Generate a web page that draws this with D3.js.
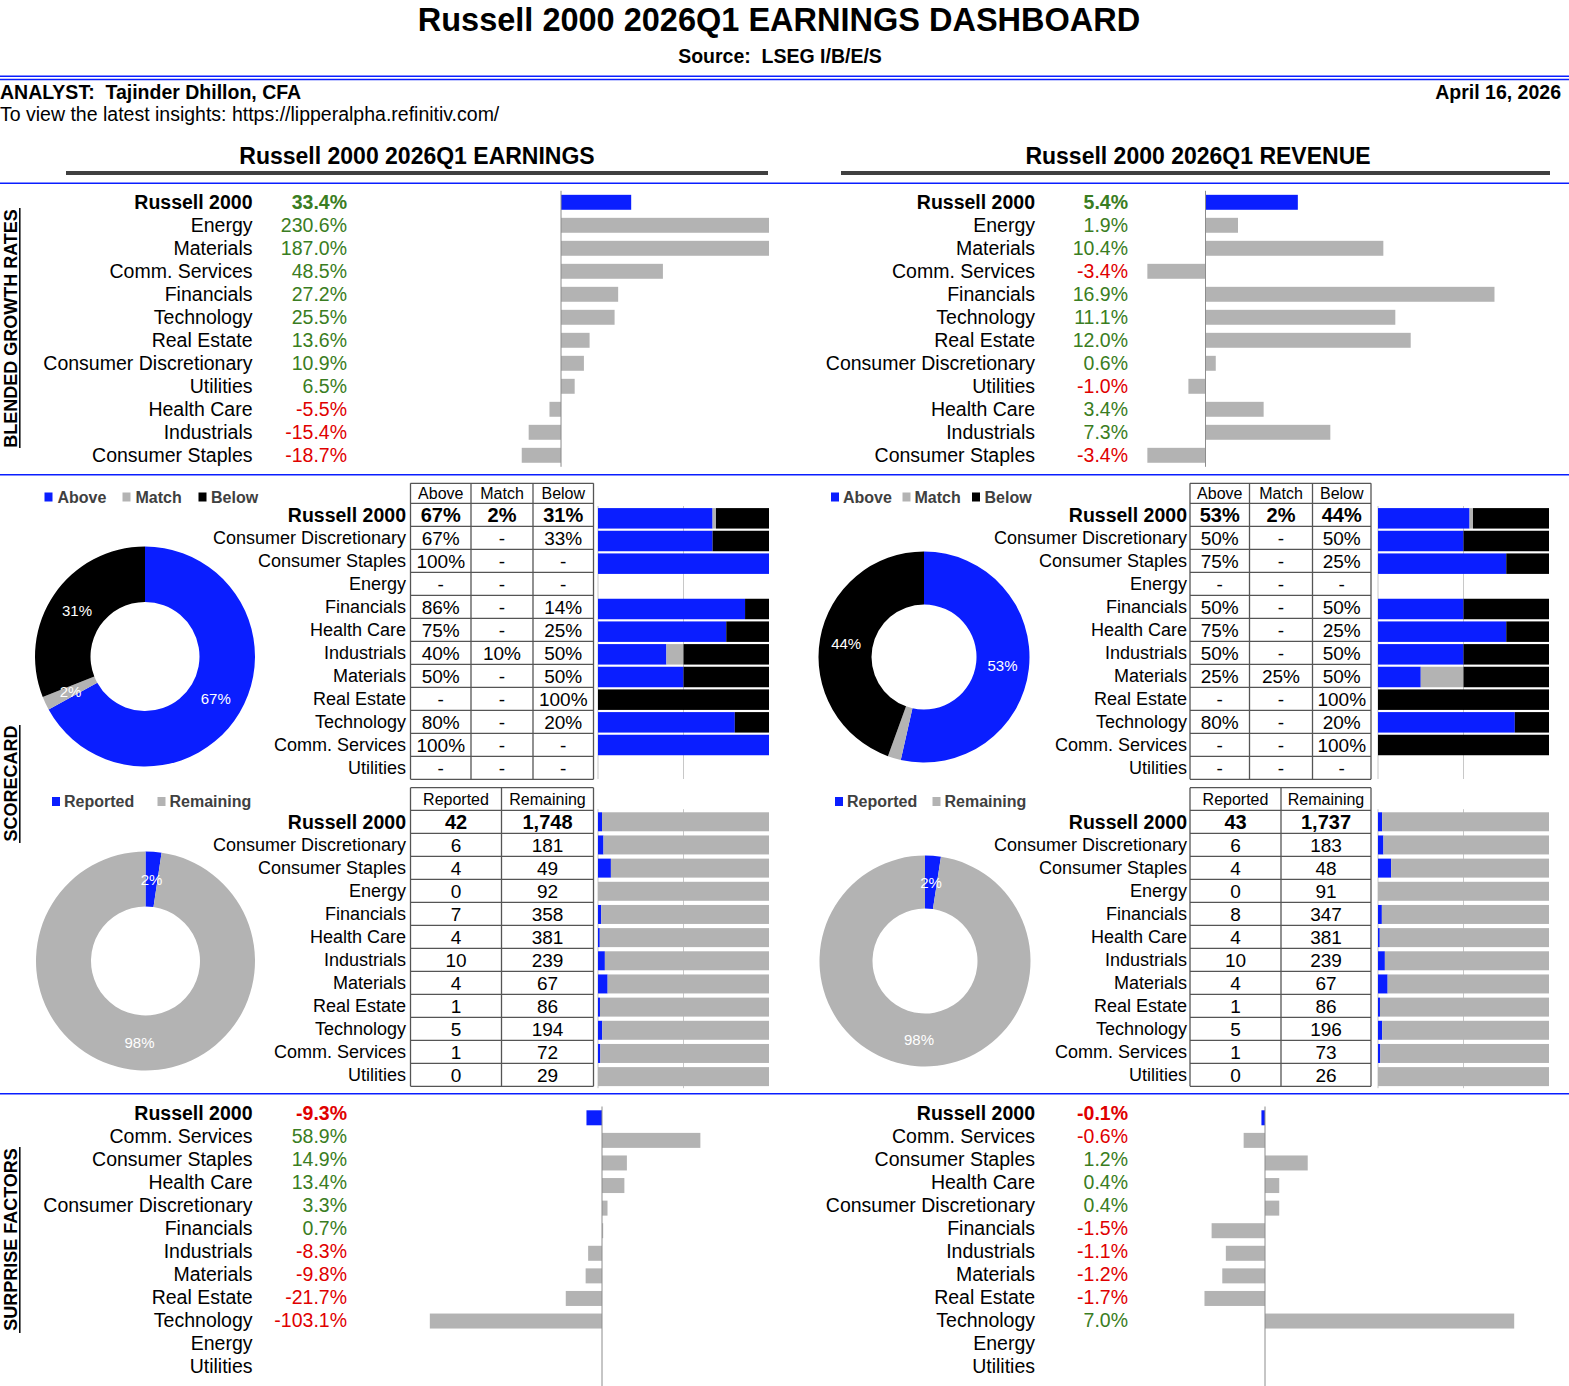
<!DOCTYPE html>
<html>
<head>
<meta charset="utf-8">
<script src="https://cdn.jsdelivr.net/npm/d3@7"></script>
<style>
  body { margin: 0; background: #fff; }
  text { font-family: "Liberation Sans", Arial, sans-serif; }
</style>
</head>
<body>
<script>
/* ---- data ---- */
// blended growth rates (same sector order on both sides)
var growthCats = ["Russell 2000", "Energy", "Materials", "Comm. Services", "Financials", "Technology",
  "Real Estate", "Consumer Discretionary", "Utilities", "Health Care", "Industrials", "Consumer Staples"];
var epsGrowth = [33.4, 230.6, 187.0, 48.5, 27.2, 25.5, 13.6, 10.9, 6.5, -5.5, -15.4, -18.7];
var revGrowth = [5.4, 1.9, 10.4, -3.4, 16.9, 11.1, 12.0, 0.6, -1.0, 3.4, 7.3, -3.4];

// scorecard
var scoreCats = ["Russell 2000", "Consumer Discretionary", "Consumer Staples", "Energy", "Financials",
  "Health Care", "Industrials", "Materials", "Real Estate", "Technology", "Comm. Services", "Utilities"];
var epsAbove = [67, 67, 100, null, 86, 75, 40, 50, null, 80, 100, null];
var epsMatch = [2, null, null, null, null, null, 10, null, null, null, null, null];
var epsBelow = [31, 33, null, null, 14, 25, 50, 50, 100, 20, null, null];
var revAbove = [53, 50, 75, null, 50, 75, 50, 25, null, 80, null, null];
var revMatch = [2, null, null, null, null, null, null, 25, null, null, null, null];
var revBelow = [44, 50, 25, null, 50, 25, 50, 50, 100, 20, 100, null];

var epsReported = [42, 6, 4, 0, 7, 4, 10, 4, 1, 5, 1, 0];
var epsRemaining = [1748, 181, 49, 92, 358, 381, 239, 67, 86, 194, 72, 29];
var revReported = [43, 6, 4, 0, 8, 4, 10, 4, 1, 5, 1, 0];
var revRemaining = [1737, 183, 48, 91, 347, 381, 239, 67, 86, 196, 73, 26];

// surprise factors
var surpCats = ["Russell 2000", "Comm. Services", "Consumer Staples", "Health Care", "Consumer Discretionary",
  "Financials", "Industrials", "Materials", "Real Estate", "Technology", "Energy", "Utilities"];
var epsSurprise = [-9.3, 58.9, 14.9, 13.4, 3.3, 0.7, -8.3, -9.8, -21.7, -103.1, null, null];
var revSurprise = [-0.1, -0.6, 1.2, 0.4, 0.4, -1.5, -1.1, -1.2, -1.7, 7.0, null, null];

/* ---- colours ---- */
var BLUE = "#0a1eff", GRAY = "#b3b3b3", BLACK = "#000", GREEN = "#3a7d22", RED = "#e00000";

var svg = d3.select("body").append("svg")
  .attr("width", 1569).attr("height", 1386);

/* ---- header ---- */
svg.append("text").attr("x", 779).attr("y", 31).attr("text-anchor", "middle")
  .style("font-size", "32.5px").style("font-weight", "bold")
  .text("Russell 2000 2026Q1 EARNINGS DASHBOARD");
svg.append("text").attr("x", 780).attr("y", 63).attr("text-anchor", "middle")
  .style("font-size", "19.5px").style("font-weight", "bold")
  .attr("xml:space", "preserve").text("Source:  LSEG I/B/E/S");
[76.2, 79.6].forEach(function(y) {
  svg.append("line").attr("x1", 0).attr("x2", 1569).attr("y1", y).attr("y2", y)
    .attr("stroke", BLUE).attr("stroke-width", 1.5);
});
svg.append("text").attr("x", 0).attr("y", 99)
  .style("font-size", "19.5px").style("font-weight", "bold")
  .attr("xml:space", "preserve").text("ANALYST:  Tajinder Dhillon, CFA");
svg.append("text").attr("x", 0).attr("y", 121).style("font-size", "19.5px")
  .text("To view the latest insights: https://lipperalpha.refinitiv.com/");
svg.append("text").attr("x", 1561).attr("y", 99).attr("text-anchor", "end")
  .style("font-size", "19.5px").style("font-weight", "bold").text("April 16, 2026");

svg.append("text").attr("x", 417).attr("y", 163.5).attr("text-anchor", "middle")
  .style("font-size", "23px").style("font-weight", "bold").text("Russell 2000 2026Q1 EARNINGS");
svg.append("text").attr("x", 1198).attr("y", 163.5).attr("text-anchor", "middle")
  .style("font-size", "23px").style("font-weight", "bold").text("Russell 2000 2026Q1 REVENUE");
[[66, 768], [841, 1550]].forEach(function(p) {
  svg.append("line").attr("x1", p[0]).attr("x2", p[1]).attr("y1", 173).attr("y2", 173)
    .attr("stroke", "#404040").attr("stroke-width", 4);
});
[183.3, 474.8, 1093.8].forEach(function(y) {
  svg.append("line").attr("x1", 0).attr("x2", 1569).attr("y1", y).attr("y2", y)
    .attr("stroke", BLUE).attr("stroke-width", 1.4);
});

// rotated section names with their underline
function sideLabel(txt, cy, y1, y2) {
  svg.append("text").attr("transform", "translate(17," + cy + ") rotate(-90)")
    .attr("text-anchor", "middle").style("font-size", "18px").style("font-weight", "bold").text(txt);
  svg.append("line").attr("x1", 19.8).attr("x2", 19.8).attr("y1", y1).attr("y2", y2)
    .attr("stroke", "#000").attr("stroke-width", 1.5);
}
sideLabel("BLENDED GROWTH RATES", 328.5, 208, 448);
sideLabel("SCORECARD", 783.5, 725, 843);
sideLabel("SURPRISE FACTORS", 1239.5, 1147, 1333);

// plain hyphen for negatives, like the spreadsheet
function pct1(v) { return (v < 0 ? "-" : "") + Math.abs(v).toFixed(1) + "%"; }

/* ---- label / value / bar panels ---- */
function barPanel(o) {
  var g = svg.append("g");
  o.cats.forEach(function(c, i) {
    var ty = o.textY0 + 23 * i;
    g.append("text").attr("x", o.labelX).attr("y", ty).attr("dy", "0.36em")
      .attr("text-anchor", "end").style("font-size", "19.5px")
      .style("font-weight", i === 0 ? "bold" : "normal").text(c);
    if (o.vals[i] != null) {
      g.append("text").attr("x", o.valX).attr("y", ty).attr("dy", "0.36em")
        .attr("text-anchor", "end").style("font-size", "19.5px")
        .style("font-weight", i === 0 ? "bold" : "normal")
        .attr("fill", o.vals[i] < 0 ? RED : GREEN).text(pct1(o.vals[i]));
    }
  });
  var y = d3.scaleBand().domain(o.cats).range(o.band)
    .paddingInner(o.pad).paddingOuter(o.pad / 2);
  g.selectAll("rect.bar").data(o.cats.map(function(c, i) { return { c: c, v: o.vals[i], i: i }; })
      .filter(function(d) { return d.v != null; }))
    .enter().append("rect").attr("class", "bar")
    .attr("x", function(d) { return o.x(Math.min(0, d.v)); })
    .attr("width", function(d) { return Math.abs(o.x(d.v) - o.x(0)); })
    .attr("y", function(d) { return y(d.c); })
    .attr("height", y.bandwidth())
    .attr("fill", function(d) { return d.i === 0 ? BLUE : GRAY; });
  g.append("line").attr("x1", o.x(0)).attr("x2", o.x(0))
    .attr("y1", o.band[0]).attr("y2", o.lineEnd || o.band[1])
    .attr("stroke", "#8c8c8c").attr("stroke-width", 1);
}

barPanel({ cats: growthCats, vals: epsGrowth, labelX: 252.5, valX: 347, textY0: 202.3,
  x: d3.scaleLinear().domain([-25, 99]).range([508.5, 769]).clamp(true),
  band: [190.8, 466.8], pad: 0.35 });
barPanel({ cats: growthCats, vals: revGrowth, labelX: 1035, valX: 1128, textY0: 202.3,
  x: d3.scaleLinear().domain([-4, 20]).range([1137.1, 1547.5]).clamp(true),
  band: [190.8, 466.8], pad: 0.35 });
barPanel({ cats: surpCats, vals: epsSurprise, labelX: 252.5, valX: 347, textY0: 1113.3,
  x: d3.scaleLinear().domain([-110, 100]).range([418.3, 769]).clamp(true),
  band: [1106.5, 1377.5], pad: 0.336, lineEnd: 1386 });
barPanel({ cats: surpCats, vals: revSurprise, labelX: 1035, valX: 1128, textY0: 1113.3,
  x: d3.scaleLinear().domain([-2, 8]).range([1193.8, 1549.8]).clamp(true),
  band: [1106.5, 1377.5], pad: 0.336, lineEnd: 1386 });

/* ---- scorecard tables ---- */
function table(o) {
  var g = svg.append("g");
  var nRows = o.cats.length;
  var bottom = o.rowTop + o.rowH * nRows;
  var left = o.cols[0], right = o.cols[o.cols.length - 1];
  // header
  o.headers.forEach(function(h, j) {
    g.append("text").attr("x", (o.cols[j] + o.cols[j + 1]) / 2).attr("y", (o.headTop + o.rowTop) / 2)
      .attr("dy", "0.36em").attr("text-anchor", "middle").style("font-size", "16px").text(h);
  });
  o.cats.forEach(function(c, i) {
    var cy = o.rowTop + o.rowH * (i + 0.5);
    var w = i === 0 ? "bold" : "normal";
    g.append("text").attr("x", o.labelX).attr("y", cy).attr("dy", "0.36em")
      .attr("text-anchor", "end").style("font-size", i === 0 ? "19.5px" : "18px")
      .style("font-weight", w).text(c);
    o.columns.forEach(function(col, j) {
      g.append("text").attr("x", (o.cols[j] + o.cols[j + 1]) / 2).attr("y", cy).attr("dy", "0.36em")
        .attr("text-anchor", "middle").style("font-size", i === 0 ? "20px" : "19px")
        .style("font-weight", w).text(o.fmt(col[i]));
    });
  });
  // grid
  var hy = [o.headTop].concat(d3.range(nRows + 1).map(function(i) { return o.rowTop + o.rowH * i; }));
  hy.forEach(function(y) {
    g.append("line").attr("x1", left).attr("x2", right).attr("y1", y).attr("y2", y)
      .attr("stroke", "#555").attr("stroke-width", 1.3);
  });
  o.cols.forEach(function(x) {
    g.append("line").attr("x1", x).attr("x2", x).attr("y1", o.headTop).attr("y2", bottom)
      .attr("stroke", "#555").attr("stroke-width", 1.3);
  });
}

var pctFmt = function(v) { return v == null ? "-" : v + "%"; };
var numFmt = function(v) { return d3.format(",")(v); };

table({ cats: scoreCats, cols: [410.5, 471, 533, 593.5], headTop: 483.3, rowTop: 503.3, rowH: 23,
  headers: ["Above", "Match", "Below"], columns: [epsAbove, epsMatch, epsBelow],
  labelX: 406, fmt: pctFmt });
table({ cats: scoreCats, cols: [1190, 1249.5, 1312.5, 1371], headTop: 483.3, rowTop: 503.3, rowH: 23,
  headers: ["Above", "Match", "Below"], columns: [revAbove, revMatch, revBelow],
  labelX: 1187, fmt: pctFmt });
table({ cats: scoreCats, cols: [410.5, 501.5, 593.5], headTop: 787.7, rowTop: 810.3, rowH: 23,
  headers: ["Reported", "Remaining"], columns: [epsReported, epsRemaining],
  labelX: 406, fmt: numFmt });
table({ cats: scoreCats, cols: [1190, 1281, 1371], headTop: 787.7, rowTop: 810.3, rowH: 23,
  headers: ["Reported", "Remaining"], columns: [revReported, revRemaining],
  labelX: 1187, fmt: numFmt });

/* ---- stacked 100% bars next to the tables ---- */
function stacked(o) {
  var g = svg.append("g");
  var x = d3.scaleLinear().domain([0, 100]).range(o.xr);
  var y = d3.scaleBand().domain(scoreCats).range(o.band).paddingInner(o.pad).paddingOuter(o.pad / 2);
  [0, 50].forEach(function(t) {
    g.append("line").attr("x1", x(t)).attr("x2", x(t)).attr("y1", o.band[0] - 1).attr("y2", o.band[1])
      .attr("stroke", "#c8c8c8").attr("stroke-width", 1);
  });
  var rows = scoreCats.map(function(c, i) {
    var vals = o.series.map(function(s) { return s[i] || 0; });
    var tot = d3.sum(vals);
    return { c: c, parts: vals.map(function(v) { return tot ? v / tot * 100 : 0; }) };
  });
  rows.forEach(function(r) {
    var acc = 0;
    r.parts.forEach(function(p, k) {
      if (p > 0) {
        g.append("rect").attr("x", x(acc)).attr("width", x(acc + p) - x(acc))
          .attr("y", y(r.c)).attr("height", y.bandwidth()).attr("fill", o.colors[k]);
      }
      acc += p;
    });
  });
}
stacked({ series: [epsAbove, epsMatch, epsBelow], colors: [BLUE, GRAY, BLACK],
  xr: [598, 769], band: [507, 779], pad: 0.096 });
stacked({ series: [revAbove, revMatch, revBelow], colors: [BLUE, GRAY, BLACK],
  xr: [1378, 1549], band: [507, 779], pad: 0.096 });
stacked({ series: [epsReported, epsRemaining], colors: [BLUE, GRAY],
  xr: [598, 769], band: [810.2, 1088.2], pad: 0.18 });
stacked({ series: [revReported, revRemaining], colors: [BLUE, GRAY],
  xr: [1378, 1549], band: [810.2, 1088.2], pad: 0.18 });

/* ---- donuts ---- */
function donut(o) {
  var g = svg.append("g").attr("transform", "translate(" + o.cx + "," + o.cy + ")");
  var pie = d3.pie().sort(null);
  var arcs = pie(o.vals);
  var arc = d3.arc().innerRadius(o.r0).outerRadius(o.r1);
  var mid = d3.arc().innerRadius((o.r0 + o.r1) / 2).outerRadius((o.r0 + o.r1) / 2);
  var tot = d3.sum(o.vals);
  g.selectAll("path").data(arcs).enter().append("path")
    .attr("d", arc).attr("fill", function(d, i) { return o.colors[i]; });
  g.selectAll("text").data(arcs.filter(function(d, i) { return o.show[i]; })).enter().append("text")
    .attr("transform", function(d) { return "translate(" + mid.centroid(d) + ")"; })
    .attr("text-anchor", "middle").attr("dy", "0.36em").attr("fill", "#fff")
    .style("font-size", "15px")
    .text(function(d) { return o.asIs ? d.value + "%" : Math.round(d.value / tot * 100) + "%"; });
}
donut({ cx: 145, cy: 656.5, r0: 54.5, r1: 110, vals: [epsAbove[0], epsMatch[0], epsBelow[0]],
  colors: [BLUE, GRAY, BLACK], show: [true, true, true], asIs: true });
donut({ cx: 924, cy: 657, r0: 52.5, r1: 105.5, vals: [revAbove[0], revMatch[0], revBelow[0]],
  colors: [BLUE, GRAY, BLACK], show: [true, false, true], asIs: true });
donut({ cx: 145.5, cy: 961, r0: 54.5, r1: 109.5, vals: [epsReported[0], epsRemaining[0]],
  colors: [BLUE, GRAY], show: [true, true] });
donut({ cx: 925, cy: 961, r0: 52.5, r1: 105.5, vals: [revReported[0], revRemaining[0]],
  colors: [BLUE, GRAY], show: [true, true] });

/* ---- legends ---- */
function legend(items, y) {
  items.forEach(function(it) {
    svg.append("rect").attr("x", it.sx).attr("y", y - 4.5).attr("width", 8).attr("height", 9)
      .attr("fill", it.color);
    svg.append("text").attr("x", it.tx).attr("y", y).attr("dy", "0.36em")
      .style("font-size", "16px").style("font-weight", "bold").attr("fill", "#404040").text(it.name);
  });
}
legend([{ name: "Above", color: BLUE, sx: 44.5, tx: 57.5 },
        { name: "Match", color: GRAY, sx: 122.5, tx: 135.5 },
        { name: "Below", color: BLACK, sx: 198.5, tx: 211 }], 497);
legend([{ name: "Above", color: BLUE, sx: 831, tx: 843 },
        { name: "Match", color: GRAY, sx: 902.5, tx: 914.5 },
        { name: "Below", color: BLACK, sx: 972, tx: 984.5 }], 497);
legend([{ name: "Reported", color: BLUE, sx: 52, tx: 64 },
        { name: "Remaining", color: GRAY, sx: 157.5, tx: 169.5 }], 801.5);
legend([{ name: "Reported", color: BLUE, sx: 835, tx: 847 },
        { name: "Remaining", color: GRAY, sx: 932.5, tx: 944.5 }], 801.5);
</script>
</body>
</html>
